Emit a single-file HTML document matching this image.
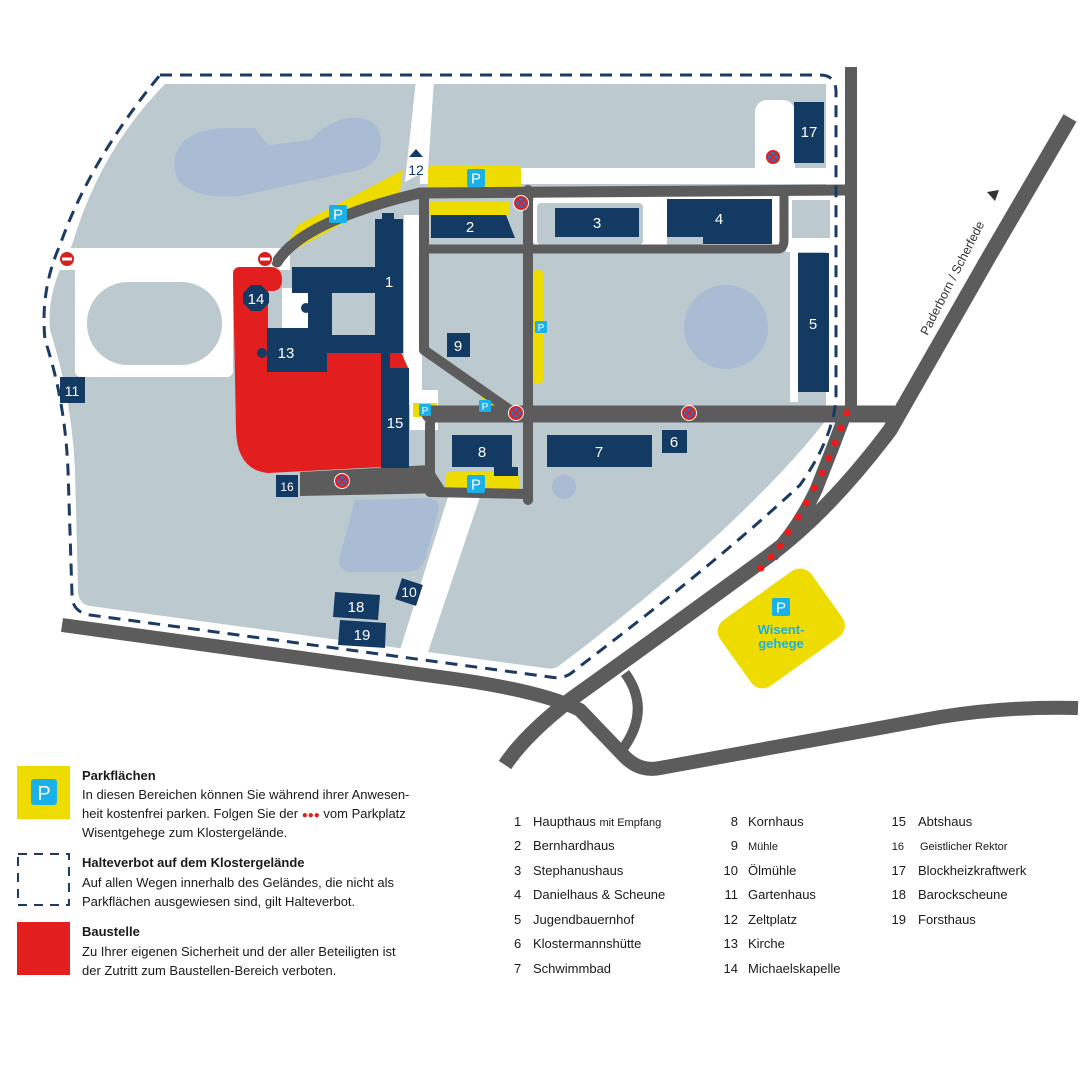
<!DOCTYPE html>
<html><head><meta charset="utf-8"><style>
html,body{margin:0;padding:0;background:#fff;}
svg{display:block;font-family:"Liberation Sans",sans-serif;}
.b{fill:#133a63}
.n{fill:#fff;font-size:15px;text-anchor:middle}
.lt{font-size:13px;fill:#1a1a1a}
</style></head><body>
<svg width="1080" height="1080" viewBox="0 0 1080 1080" xmlns="http://www.w3.org/2000/svg">
<defs>
<g id="P"><rect x="-9" y="-9" width="18" height="18" rx="2" fill="#1ab0e8"/><text x="0" y="5.5" font-size="15" fill="#fff" text-anchor="middle">P</text></g>
<g id="p"><rect x="-6" y="-6" width="12" height="12" rx="1.5" fill="#1ab0e8"/><text x="0" y="4" font-size="10" fill="#fff" text-anchor="middle">P</text></g>
<g id="hv"><circle r="7.5" fill="#e31e1e" stroke="#fff" stroke-width="1"/><circle r="5" fill="#2a6fc0"/><path d="M-3.5,-3.5 L3.5,3.5 M3.5,-3.5 L-3.5,3.5" stroke="#e31e1e" stroke-width="1.6"/></g>
<g id="ne"><circle r="7.5" fill="#d42020" stroke="#fff" stroke-width="1"/><rect x="-5" y="-1.5" width="10" height="3" fill="#fff"/></g>
</defs>

<!-- campus land -->
<path d="M165,84 L826,84 Q830,84 830,95 L830,400 L826,420 Q780,480 690,560 Q620,620 560,665 Q555,670 545,668 L90,606 Q78,604 78,590 L75,470 Q72,400 50,330 Q46,290 72,245 Q100,150 165,84 Z" fill="#bccad0"/>

<!-- white areas -->
<polygon points="416,80 434,80 428,170 405,182" fill="#fff"/>
<rect x="420" y="168" width="420" height="16" fill="#fff"/>
<rect x="755" y="100" width="40" height="84" rx="12" fill="#fff"/>
<rect x="826" y="80" width="12" height="340" fill="#fff"/>
<rect x="45" y="248" width="245" height="22" fill="#fff"/>
<rect x="75" y="262" width="158" height="115" rx="6" fill="#fff"/>
<rect x="87" y="282" width="135" height="83" rx="41" fill="#bccad0"/>
<rect x="282" y="288" width="30" height="48" fill="#fff"/>
<rect x="404" y="215" width="18" height="190" fill="#fff"/>
<rect x="410" y="390" width="28" height="40" fill="#fff"/>
<rect x="533" y="196" width="250" height="50" rx="6" fill="#fff"/>
<rect x="537" y="203" width="106" height="42" rx="4" fill="#bccad0"/>
<rect x="667" y="236" width="36" height="9" fill="#bccad0"/>
<rect x="786" y="194" width="48" height="58" fill="#fff"/>
<rect x="792" y="200" width="38" height="38" fill="#bccad0"/>
<rect x="790" y="252" width="8" height="150" fill="#fff"/>
<polygon points="448,497 480,497 428,652 400,650" fill="#fff"/>

<!-- water -->
<path d="M185,140 Q200,128 230,128 L255,128 Q262,140 270,145 L310,140 Q335,115 360,118 Q385,122 380,150 Q375,168 350,172 L240,196 Q195,200 178,180 Q168,158 185,140 Z" fill="#a9bcd4"/>
<circle cx="726" cy="327" r="42" fill="#a9bcd4"/>
<circle cx="564" cy="487" r="12" fill="#a9bcd4"/>
<path d="M355,500 L428,498 Q442,500 438,512 L425,560 Q420,572 405,572 L350,572 Q336,570 340,556 Z" fill="#a9bcd4"/>

<!-- yellow parking -->
<rect x="428" y="165" width="93" height="27" rx="5" fill="#eedc00"/>
<rect x="428" y="201" width="82" height="14" rx="3" fill="#eedc00"/>
<polygon points="283,250 298,225 403,170 400,192 300,247" fill="#eedc00"/>
<rect x="533" y="270" width="10" height="114" rx="4" fill="#eedc00"/>
<rect x="445" y="472" width="74" height="25" rx="6" fill="#eedc00"/>
<rect x="413" y="403" width="24" height="14" fill="#eedc00"/>
<rect x="482" y="394" width="11" height="23" rx="3" fill="#eedc00"/>

<!-- red construction -->
<path d="M240,267 L272,267 Q282,268 282,280 Q282,291 272,291 L268,291 L268,330 L310,330 L310,350 L400,350 L409,370 L381,370 L381,467 L268,473 Q237,470 236,430 L233,275 Q233,267 240,267 Z" fill="#e31e1e"/>

<!-- interior roads -->
<g fill="none" stroke="#5c5c5c" stroke-linecap="round" stroke-linejoin="round">
<path d="M277,262 Q300,225 400,198 L420,193 L845,190" stroke-width="11"/>
<path d="M424,193 L424,350 L510,410" stroke-width="10"/>
<path d="M528,190 L528,500" stroke-width="10"/>
<path d="M424,249 L778,249 Q784,249 784,240 L784,190" stroke-width="9"/>
<path d="M430,414 L893,414" stroke-width="17"/>
<path d="M440,414 Q430,414 430,425 L430,492 L528,494" stroke-width="10"/>
</g>
<polygon points="300,472 430,465 448,493 300,496" fill="#5c5c5c"/>

<!-- outer roads -->
<g fill="none" stroke="#5c5c5c" stroke-linejoin="round">
<path d="M851,67 L851,418" stroke-width="12"/>
<path d="M1070,118 L990,255 Q930,360 890,430 Q830,510 770,555 Q640,650 570,700 Q525,735 505,765" stroke-width="15"/>
<path d="M847,410 Q832,450 816,490 Q798,528 772,556" stroke-width="13"/>
<path d="M62,625 L440,677 Q540,690 580,710 L625,757 Q640,772 660,768 L940,717 Q1010,706 1078,708" stroke-width="14"/>
<path d="M625,673 Q652,710 622,750" stroke-width="10"/>
</g>

<!-- dashed boundary -->
<path d="M160,75 L820,75 Q836,75 836,92 L836,400 Q832,440 800,485 Q720,560 575,670 Q565,680 550,677 L90,615 Q72,612 72,595 L68,470 Q65,400 45,340 Q40,290 60,245 Q90,160 160,75 Z" fill="none" stroke="#1b3a64" stroke-width="3" stroke-dasharray="12 8"/>

<!-- red dots -->
<g fill="#f01818">
<circle cx="847" cy="413" r="3.5"/><circle cx="841" cy="428" r="3.5"/><circle cx="835" cy="443" r="3.5"/><circle cx="829" cy="458" r="3.5"/><circle cx="822" cy="473" r="3.5"/><circle cx="814" cy="488" r="3.5"/><circle cx="806" cy="503" r="3.5"/><circle cx="798" cy="517" r="3.5"/><circle cx="788" cy="532" r="3.5"/><circle cx="780" cy="546" r="3.5"/><circle cx="771" cy="557" r="3.5"/><circle cx="761" cy="568" r="3.5"/>
</g>

<!-- buildings -->
<g class="b">
<rect x="375" y="219" width="28" height="134"/><rect x="382" y="213" width="12" height="7"/>
<rect x="292" y="267" width="83" height="26"/>
<rect x="308" y="293" width="24" height="60"/>
<rect x="267" y="328" width="60" height="44"/>
<rect x="332" y="335" width="43" height="18"/>
<circle cx="262" cy="353" r="5"/><circle cx="306" cy="308" r="5"/>
<polygon points="251,285 261,285 269,293 269,303 261,311 251,311 243,303 243,293"/>
<rect x="381" y="368" width="28" height="100"/><rect x="381" y="353" width="9" height="16"/>
<rect x="447" y="333" width="23" height="24"/>
<polygon points="431,215 506,215 515,238 431,238"/>
<rect x="452" y="435" width="60" height="32"/><rect x="494" y="467" width="24" height="9"/>
<rect x="276" y="475" width="22" height="22"/>
<rect x="60" y="377" width="25" height="26"/>
<rect x="555" y="208" width="84" height="29"/>
<rect x="667" y="199" width="105" height="38"/><rect x="703" y="237" width="69" height="7"/>
<rect x="798" y="253" width="31" height="139"/>
<rect x="794" y="102" width="30" height="61"/>
<rect x="547" y="435" width="105" height="32"/>
<rect x="662" y="430" width="25" height="23"/>
<polygon points="335,592 380,595 378,620 333,617"/>
<polygon points="340,620 386,623 385,648 338,645"/>
<rect x="398" y="581" width="22" height="22" transform="rotate(18 409 592)"/>
</g>
<g class="n">
<text x="389" y="287">1</text><text x="470" y="232">2</text><text x="597" y="228">3</text><text x="719" y="224">4</text><text x="813" y="329">5</text><text x="674" y="447">6</text><text x="599" y="457">7</text><text x="482" y="457">8</text><text x="458" y="351">9</text><text x="409" y="597" font-size="14">10</text><text x="72" y="396" font-size="14">11</text><text x="286" y="358">13</text><text x="256" y="304">14</text><text x="395" y="428">15</text><text x="287" y="491" font-size="12">16</text><text x="809" y="137">17</text><text x="356" y="612">18</text><text x="362" y="640">19</text>
</g>
<polygon points="409,157 416,149 423,157" fill="#133a63"/>
<text x="416" y="175" font-size="14" fill="#133a63" text-anchor="middle">12</text>

<!-- P icons -->
<use href="#P" x="476" y="178"/><use href="#P" x="338" y="214"/><use href="#P" x="476" y="484"/>
<use href="#p" x="541" y="327"/><use href="#p" x="425" y="410"/><use href="#p" x="485" y="406"/>

<!-- signs -->
<use href="#ne" x="67" y="259"/><use href="#ne" x="265" y="259"/>
<use href="#hv" x="521" y="203"/><use href="#hv" x="773" y="157"/><use href="#hv" x="516" y="413"/><use href="#hv" x="689" y="413"/><use href="#hv" x="342" y="481"/>

<!-- Wisentgehege -->
<rect x="725" y="588" width="112" height="81" rx="14" fill="#eedc00" transform="rotate(-35.5 781 628)"/>
<use href="#P" x="781" y="607"/>
<text x="781" y="634" font-size="13" font-weight="bold" fill="#1ab0e8" text-anchor="middle">Wisent-</text>
<text x="781" y="648" font-size="13" font-weight="bold" fill="#1ab0e8" text-anchor="middle">gehege</text>

<!-- Paderborn label -->
<text x="0" y="0" font-size="12.5" fill="#333" text-anchor="middle" transform="translate(956,280) rotate(-63)">Paderborn / Scherfede</text>
<polygon points="987,192 999,190 995,201" fill="#333"/>

<!-- Legend -->
<rect x="17" y="766" width="53" height="53" fill="#eedc00"/>
<rect x="31" y="779" width="26" height="26" rx="3" fill="#1ab0e8"/>
<text x="44" y="800" font-size="20" fill="#fff" text-anchor="middle">P</text>
<rect x="18" y="854" width="51" height="51" fill="none" stroke="#1b3a64" stroke-width="2" stroke-dasharray="9 7"/>
<rect x="17" y="922" width="53" height="53" fill="#e31e1e"/>
<g class="lt">
<text x="82" y="780" font-weight="bold">Parkflächen</text>
<text x="82" y="799">In diesen Bereichen können Sie während ihrer Anwesen-</text>
<text x="82" y="818">heit kostenfrei parken. Folgen Sie der <tspan fill="#e31e1e" font-size="10">●●●</tspan> vom Parkplatz</text>
<text x="82" y="837">Wisentgehege zum Klostergelände.</text>
<text x="82" y="867" font-weight="bold">Halteverbot auf dem Klostergelände</text>
<text x="82" y="887">Auf allen Wegen innerhalb des Geländes, die nicht als</text>
<text x="82" y="906">Parkflächen ausgewiesen sind, gilt Halteverbot.</text>
<text x="82" y="936" font-weight="bold">Baustelle</text>
<text x="82" y="956">Zu Ihrer eigenen Sicherheit und der aller Beteiligten ist</text>
<text x="82" y="975">der Zutritt zum Baustellen-Bereich verboten.</text>
</g>
<g class="lt">
<text x="514" y="826">1</text><text x="533" y="826">Haupthaus <tspan font-size="11">mit Empfang</tspan></text>
<text x="514" y="850">2</text><text x="533" y="850">Bernhardhaus</text>
<text x="514" y="875">3</text><text x="533" y="875">Stephanushaus</text>
<text x="514" y="899">4</text><text x="533" y="899">Danielhaus &amp; Scheune</text>
<text x="514" y="924">5</text><text x="533" y="924">Jugendbauernhof</text>
<text x="514" y="948">6</text><text x="533" y="948">Klostermannshütte</text>
<text x="514" y="973">7</text><text x="533" y="973">Schwimmbad</text>
<g text-anchor="end"><text x="738" y="826">8</text><text x="738" y="850">9</text><text x="738" y="875">10</text><text x="738" y="899">11</text><text x="738" y="924">12</text><text x="738" y="948">13</text><text x="738" y="973">14</text></g>
<text x="748" y="826">Kornhaus</text><text x="748" y="850" font-size="11">Mühle</text><text x="748" y="875">Ölmühle</text><text x="748" y="899">Gartenhaus</text><text x="748" y="924">Zeltplatz</text><text x="748" y="948">Kirche</text><text x="748" y="973">Michaelskapelle</text>
<g text-anchor="end"><text x="906" y="826">15</text><text x="904" y="850" font-size="11">16</text><text x="906" y="875">17</text><text x="906" y="899">18</text><text x="906" y="924">19</text></g>
<text x="918" y="826">Abtshaus</text><text x="920" y="850" font-size="11">Geistlicher Rektor</text><text x="918" y="875">Blockheizkraftwerk</text><text x="918" y="899">Barockscheune</text><text x="918" y="924">Forsthaus</text>
</g>
</svg>
</body></html>
